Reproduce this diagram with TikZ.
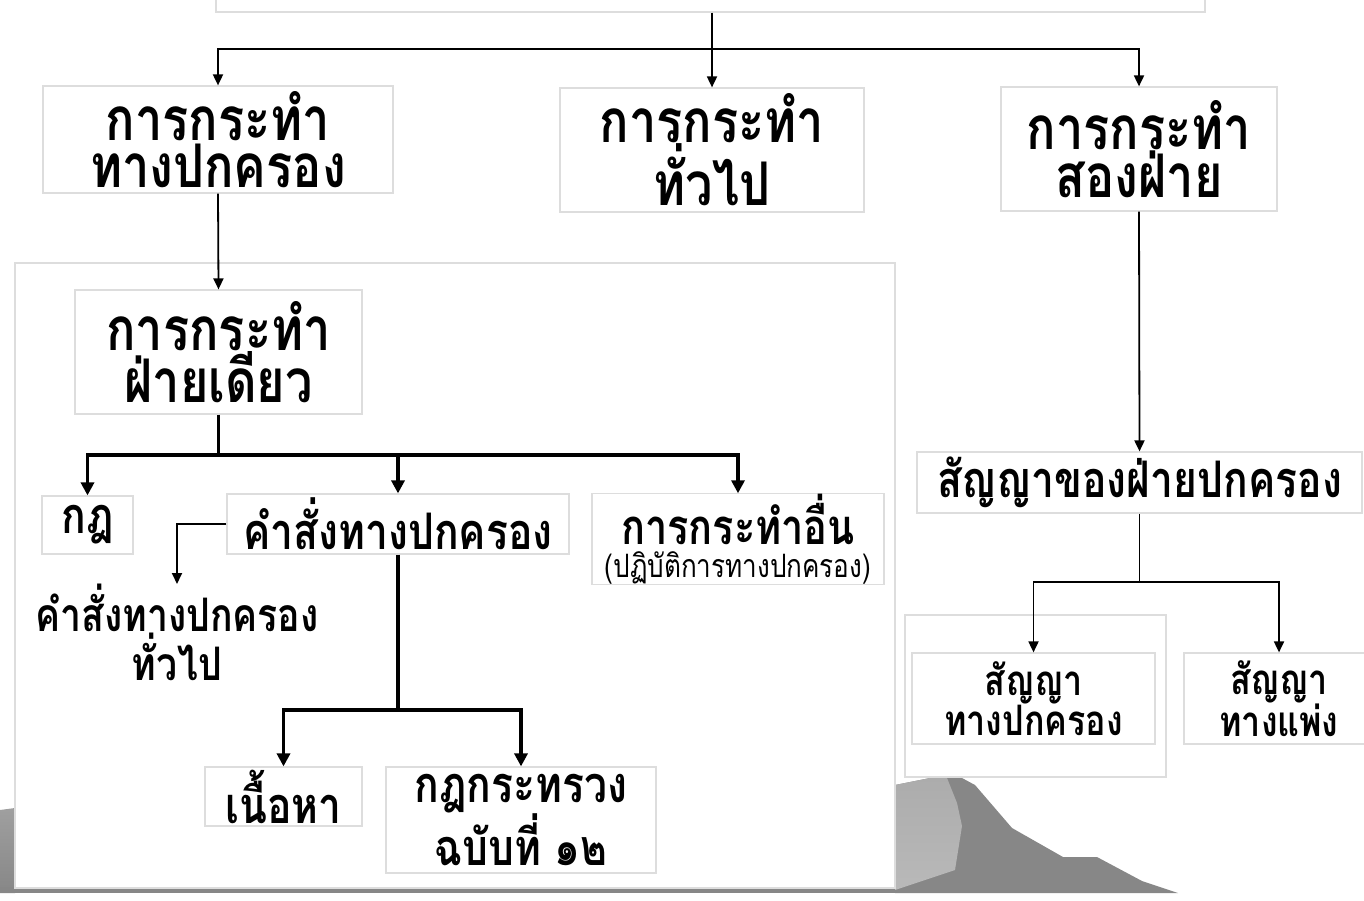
\documentclass[tikz,border=0pt]{standalone}
\usepackage{fontspec}
\newfontfamily\thaifont[Script=Thai,FakeStretch=0.81,Scale=1.4]{Loma}
\usetikzlibrary{arrows.meta}
\definecolor{edge}{HTML}{DDDDDD}
\definecolor{hill}{HTML}{878787}
\tikzset{
  x=1pt,y=-1pt,
  box/.style={draw=edge,line width=1.2pt,fill=white,inner sep=0pt,align=center},
  big/.style={font=\thaifont\bfseries\fontsize{43}{47}\selectfont},
  mid/.style={font=\thaifont\bfseries\fontsize{36}{44}\selectfont},
  small/.style={font=\thaifont\bfseries\fontsize{30}{37}\selectfont},
  thinconn/.style={line width=1.8pt,-{Triangle[length=11pt,width=10pt]}},
  thickconn/.style={line width=3.6pt,-{Triangle[length=13pt,width=13pt]}},
  thinline/.style={line width=1.8pt},
  thickline/.style={line width=3.6pt},
}
\begin{document}
\begin{tikzpicture}
\useasboundingbox (0,0) rectangle (1364,901);
% background grey shapes
\shade[top color=gray!75,bottom color=hill] (0,810) -- (15,808) -- (15,893) -- (0,893) -- cycle;
\fill[hill] (0,887) rectangle (1000,893);
\fill[hill] (895,785) -- (930,778) -- (962,778) -- (975,785) -- (1012,828) -- (1063,857) -- (1097,857) -- (1142,881) -- (1178,893) -- (895,893) -- cycle;
\shade[top color=gray!65,bottom color=gray!90!black!50] (895,785) -- (930,778) -- (947,778) -- (957,803) -- (962,826) -- (955,870) -- (895,890) -- cycle;
% container boxes
\node[box,minimum width=880pt,minimum height=625pt] (cont) at (455,575.5) {};
\node[box,minimum width=261pt,minimum height=162pt] (cont2) at (1035.5,696) {};
% top box
\node[box,minimum width=989pt,minimum height=60pt] (top) at (710.5,-18) {};
% level 1
\node[box,big,minimum width=350pt,minimum height=107pt] (admin) at (218,139.5) {การกระทำ\\ทางปกครอง};
\node[box,big,minimum width=304pt,minimum height=124pt] (general) at (712,150) {การกระทำ\\ทั่วไป};
\node[box,big,minimum width=276pt,minimum height=124pt] (bilateral) at (1139,149) {การกระทำ\\สองฝ่าย};
% left branch
\node[box,big,minimum width=287pt,minimum height=124pt] (unilateral) at (218.5,352) {การกระทำ\\ฝ่ายเดียว};
\node[box,mid,minimum width=91pt,minimum height=58pt] (rule) at (87.5,525) {กฎ};
\node[box,mid,minimum width=342pt,minimum height=60pt] (order) at (398,524) {คำสั่งทางปกครอง};
\node[box,minimum width=292pt,minimum height=88pt,align=center] (other) at (738,539)
  {{\thaifont\bfseries\fontsize{35}{38}\selectfont การกระทำอื่น}\\[6pt]{\thaifont\fontsize{23}{26}\selectfont (ปฏิบัติการทางปกครอง)}};
\node[align=center,anchor=north,inner sep=0pt,font=\thaifont\bfseries\fontsize{33}{43}\selectfont] (genorder) at (177,584) {คำสั่งทางปกครอง\\ทั่วไป};
\node[box,mid,minimum width=157pt,minimum height=59pt] (content) at (283.5,796.5) {เนื้อหา};
\node[box,mid,minimum width=270pt,minimum height=106pt] (ministerial) at (521,820) {กฎกระทรวง\\ฉบับที่ ๑๒};
% right branch
\node[box,mid,minimum width=445pt,minimum height=61pt] (contract) at (1139.5,482.5) {สัญญาของฝ่ายปกครอง};
\node[box,small,minimum width=243pt,minimum height=91pt] (admcontract) at (1033.5,698.5) {สัญญา\\ทางปกครอง};
\node[box,small,minimum width=190pt,minimum height=91pt] (civcontract) at (1279,698.5) {สัญญา\\ทางแพ่ง};
% connectors
\coordinate (j1) at (712,49);
\draw[thinline] (top.south -| j1) -- (j1);
\draw[thinconn] (j1) -| (admin.north);
\draw[thinconn] (j1) -- (general.north);
\draw[thinconn] (j1) -| (bilateral.north);
\draw[thinconn] (admin.south) -- (unilateral.north);
\coordinate (j2) at (218.5,455);
\draw[thickline] (unilateral.south) -- (j2);
\draw[thickconn] (j2) -| (rule.north);
\draw[thickconn] (j2) -| (order.north);
\draw[thickconn] (j2) -| (other.north);
\draw[thinconn] (order.west) -| (genorder.north);
\coordinate (j3) at (398,710);
\draw[thickline] (order.south) -- (j3);
\draw[thickconn] (j3) -| (content.north);
\draw[thickconn] (j3) -| (ministerial.north);
\draw[thinconn] (bilateral.south) -- (contract.north);
\coordinate (j4) at (1139.5,582);
\draw[thinline] (contract.south) -- (j4);
\draw[thinconn] (j4) -| (admcontract.north);
\draw[thinconn] (j4) -| (civcontract.north);
\end{tikzpicture}
\end{document}
